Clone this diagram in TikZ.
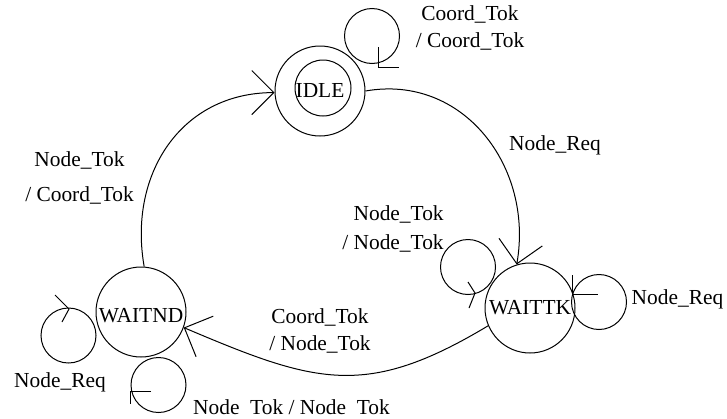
\documentclass[tikz,border=0pt]{standalone}
\usepackage{fontspec}
\setmainfont{Liberation Serif}
\usetikzlibrary{arrows.meta}

\tikzset{
  state/.style={circle, draw, minimum size=45pt, inner sep=0pt},
  selfloop/.style={circle, draw, minimum size=27.5pt, inner sep=0pt},
  trans/.style={-{Straight Barb[length=11pt, width=22pt]}},
  lbl/.style={align=center, inner sep=0pt},
}

\begin{document}
\begin{tikzpicture}[x=0.5pt, y=0.5pt, line width=0.5pt,
    every node/.style={font=\fontsize{10.7}{13.5}\selectfont}]
    \useasboundingbox (0,0) rectangle (727,-418);

    % states
    \node[state] (IDLE) at (320,-91) {IDLE};
    \node[circle, draw, minimum size=28pt, inner sep=0pt] (IDLEin) at ([shift={(3,3)}]IDLE.center) {};
    \node[state] (WAITTK) at (530,-308) {WAITTK};
    \node[state, text height=11pt] (WAITND) at (141,-312) {WAITND};

    % self loops
    \node[selfloop] (idleLoop) at ([shift={(52,55)}]IDLE.center) {};
    \node[selfloop] (tkLoopR) at ([shift={(69,6)}]WAITTK.center) {};
    \node[selfloop] (tkLoopL) at ([shift={(-62,41)}]WAITTK.center) {};
    \node[selfloop] (ndLoopL) at ([shift={(-72.5,-23.5)}]WAITND.center) {};
    \node[selfloop] (ndLoopB) at ([shift={(17.5,-73)}]WAITND.center) {};

    \draw ([shift={(6,-11)}]idleLoop.center) -- ++(0,-20) -- ++(21,0);
    \draw ([shift={(-27,27)}]tkLoopR.center) -- ++(0,-19) -- ++(26,0);
    \draw ([shift={(0,-15)}]tkLoopL.center) -- ++(7,-11) -- ++(-6,-15);
    \draw ([shift={(-13.5,40.5)}]ndLoopL.center) -- ++(14,-14) -- ++(-7,-13);
    \draw ([shift={(-7.5,-6)}]ndLoopB.center) -- ++(-21,0) -- ++(0,-13);

    % transitions
    \draw[trans] (IDLE.east) to[out=10, in=80, looseness=1.1] (WAITTK.107);
    \draw[trans] (WAITTK.203) to[out=211, in=-23, looseness=1.2] (WAITND.340);
    \draw[trans] (WAITND.86) to[out=100, in=180, looseness=1.1] (IDLE.182);

    % labels
    \node[lbl] (idleLbl) at (470,-27.5) {Coord\_Tok\\/ Coord\_Tok};
    \node[lbl] (reqLbl) at (555,-145) {Node\_Req};
    \node[lbl] (retLbl) at (79.5,-177.5) {Node\_Tok\\[4pt]/ Coord\_Tok};
    \node[lbl, align=right] (tokLbl) at (393,-228.5) {Node\_Tok\\[1pt]/ Node\_Tok};
    \node[lbl] (coordLbl) at (320,-330.5) {Coord\_Tok\\/ Node\_Tok};
    \node[lbl] (tkReqLbl) at (677.5,-299) {Node\_Req};
    \node[lbl] (ndReqLbl) at (60,-382) {Node\_Req};
    \node[lbl] (ndTokLbl) at (291.5,-407) {Node\ \ Tok / Node\ \ Tok};
\end{tikzpicture}
\end{document}
